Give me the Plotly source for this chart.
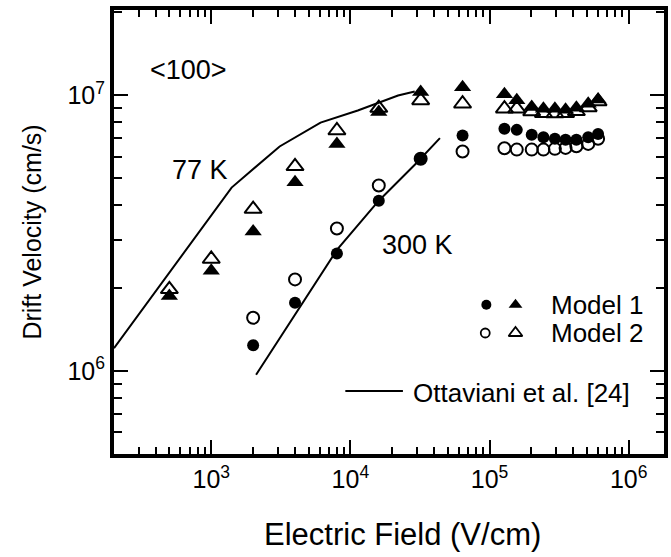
import plotly.graph_objects as go

# ---------------- data ----------------
# 77 K (triangles)
field_77 = [500, 1000, 2000, 4000, 8000, 16000, 32000, 64000,
            128000, 157000, 201000, 244000, 295000, 352000, 421000, 512000, 603000]
v77_model1 = [1.87e6, 2.31e6, 3.21e6, 4.84e6, 6.67e6, 8.7e6, 1.03e7, 1.07e7,
              1.01e7, 9.6e6, 9.07e6, 8.95e6, 8.95e6, 8.87e6, 9.02e6, 9.33e6, 9.67e6]
v77_model2 = [1.98e6, 2.55e6, 3.87e6, 5.53e6, 7.46e6, 9.0e6, 9.59e6, 9.33e6,
              8.95e6, 8.95e6, 8.74e6, 8.62e6, 8.6e6, 8.62e6, 8.76e6, 9.05e6, 9.5e6]

# 300 K (circles)
field_300 = [2000, 4000, 8000, 16000, 32000, 64000,
             128000, 157000, 201000, 244000, 295000, 352000, 421000, 512000, 603000]
v300_model1 = [1.24e6, 1.77e6, 2.67e6, 4.15e6, 5.89e6, 7.16e6,
               7.57e6, 7.5e6, 7.2e6, 7.05e6, 6.96e6, 6.9e6, 6.9e6, 7.05e6, 7.25e6]
v300_model2 = [1.56e6, 2.15e6, 3.29e6, 4.71e6, 5.89e6, 6.26e6,
               6.43e6, 6.36e6, 6.36e6, 6.36e6, 6.4e6, 6.45e6, 6.54e6, 6.67e6, 6.96e6]

# Ottaviani et al. [24] curves
ott77_field = [200, 1400, 3100, 6100, 11300, 22000, 29000]
ott77_v = [1.21e6, 4.63e6, 6.53e6, 7.97e6, 8.82e6, 1.0e7, 1.034e7]
ott300_field = [2100, 8000, 16000, 30000, 44000]
ott300_v = [9.7e5, 2.75e6, 4.15e6, 5.7e6, 7.0e6]

x_major = [1e3, 1e4, 1e5, 1e6]
x_major_text = ["10<sup>3</sup>", "10<sup>4</sup>", "10<sup>5</sup>", "10<sup>6</sup>"]
y_major = [1e6, 1e7]
y_major_text = ["10<sup>6</sup>", "10<sup>7</sup>"]

FONT = "Liberation Sans, Arial, Helvetica, sans-serif"

x_minor = [m * 10 ** k for k in range(2, 7) for m in range(2, 10)]
y_minor = [m * 10 ** k for k in range(5, 8) for m in range(2, 10)]

fig = go.Figure()

# open markers first (drawn behind filled ones)
fig.add_trace(go.Scatter(x=field_77, y=v77_model2, mode="markers",
                         marker=dict(symbol="triangle-up-open", size=15, color="black",
                                     line=dict(width=2, color="black")),
                         showlegend=False))
fig.add_trace(go.Scatter(x=field_300, y=v300_model2, mode="markers",
                         marker=dict(symbol="circle-open", size=12, color="black",
                                     line=dict(width=2, color="black")),
                         showlegend=False))
fig.add_trace(go.Scatter(x=field_77, y=v77_model1, mode="markers",
                         marker=dict(symbol="triangle-up", size=15, color="black"),
                         showlegend=False))
fig.add_trace(go.Scatter(x=field_300, y=v300_model1, mode="markers",
                         marker=dict(symbol="circle", size=12, color="black"),
                         showlegend=False))
fig.add_trace(go.Scatter(x=ott77_field, y=ott77_v, mode="lines",
                         line=dict(color="black", width=2), showlegend=False))
fig.add_trace(go.Scatter(x=ott300_field, y=ott300_v, mode="lines",
                         line=dict(color="black", width=2), showlegend=False))

# legend items on an overlay [0,1] axis
fig.add_trace(go.Scatter(x=[0.677], y=[0.336], mode="markers", xaxis="x2", yaxis="y2",
                         marker=dict(symbol="circle", size=10, color="black"), showlegend=False))
fig.add_trace(go.Scatter(x=[0.730], y=[0.336], mode="markers", xaxis="x2", yaxis="y2",
                         marker=dict(symbol="triangle-up", size=12, color="black"), showlegend=False))
fig.add_trace(go.Scatter(x=[0.675], y=[0.2725], mode="markers", xaxis="x2", yaxis="y2",
                         marker=dict(symbol="circle-open", size=9, color="black",
                                     line=dict(width=1.8, color="black")), showlegend=False))
fig.add_trace(go.Scatter(x=[0.730], y=[0.2725], mode="markers", xaxis="x2", yaxis="y2",
                         marker=dict(symbol="triangle-up-open", size=12, color="black",
                                     line=dict(width=1.8, color="black")), showlegend=False))
fig.add_trace(go.Scatter(x=[0.4206, 0.5253], y=[0.1419, 0.1419], mode="lines",
                         xaxis="x2", yaxis="y2",
                         line=dict(color="black", width=2), showlegend=False))

axis_common = dict(
    showline=True, linecolor="black", linewidth=4, mirror="allticks",
    ticks="inside", ticklen=14, tickwidth=2, tickcolor="black",
    showgrid=False, zeroline=False,
    tickfont=dict(family=FONT, size=25, color="black"),
)

fig.update_layout(
    width=671, height=557,
    margin=dict(l=114, r=3, t=10, b=103),
    paper_bgcolor="white", plot_bgcolor="white",
    font=dict(family=FONT, color="black"),
    xaxis=dict(type="log", range=[2.301, 6.254], tickmode="array",
               tickvals=x_major, ticktext=x_major_text,
               minor=dict(tickmode="array", tickvals=x_minor, ticks="inside",
                          ticklen=7, tickwidth=1.5, tickcolor="black", showgrid=False),
               **axis_common),
    yaxis=dict(type="log", range=[5.699, 7.31], tickmode="array",
               tickvals=y_major, ticktext=y_major_text,
               minor=dict(tickmode="array", tickvals=y_minor, ticks="inside",
                          ticklen=8, tickwidth=1.5, tickcolor="black", showgrid=False),
               **axis_common),
    xaxis2=dict(overlaying="x", range=[0, 1], visible=False, anchor="y2"),
    yaxis2=dict(overlaying="y", range=[0, 1], visible=False, anchor="x2"),
)

ann = [
    dict(text="&lt;100&gt;", x=0.0614, y=0.8649, xanchor="left", size=27),
    dict(text="77 K", x=0.1011, y=0.6396, xanchor="left", size=27),
    dict(text="300 K", x=0.4832, y=0.4707, xanchor="left", size=27),
    dict(text="Model 1", x=0.7906, y=0.3356, xanchor="left", size=26),
    dict(text="Model 2", x=0.7906, y=0.2725, xanchor="left", size=26),
    dict(text="Ottaviani et al. [24]", x=0.5397, y=0.1374, xanchor="left", size=26),
]
for a in ann:
    fig.add_annotation(text=a["text"], x=a["x"], y=a["y"], xref="paper", yref="paper",
                       xanchor=a["xanchor"], yanchor="middle", showarrow=False,
                       font=dict(family=FONT, size=a["size"], color="black"))

fig.add_annotation(text="Electric Field (V/cm)", x=0.525, y=-0.1824, xref="paper", yref="paper",
                   xanchor="center", yanchor="middle", showarrow=False,
                   font=dict(family=FONT, size=31, color="black"))
fig.add_annotation(text="Drift Velocity (cm/s)", x=-0.1498, y=0.5, xref="paper", yref="paper",
                   xanchor="center", yanchor="middle", showarrow=False, textangle=-90,
                   font=dict(family=FONT, size=25, color="black"))

fig.write_html("out.html")
